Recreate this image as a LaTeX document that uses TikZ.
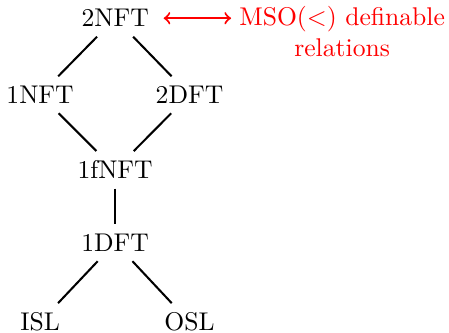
\documentclass[tikz,border=0pt]{standalone}
\usetikzlibrary{arrows,positioning}
\tikzset{
    cls/.style = {inner sep=3.6pt},
    link/.style = {draw, thick},
    note/.style = {text=red, align=center, inner sep=3pt}
}
\begin{document}
\begin{tikzpicture}[auto, node distance=2cm,>=to]
        \useasboundingbox (0,0) rectangle (6.16,-4.56);
        \node [cls, name=top] at (1.58,-0.25) {2NFT};
        \node [cls] (onenft) at (0.55,-1.30) {1NFT};
        \node [cls] (twodft) at (2.60,-1.30) {2DFT};
        \node [cls] (fnft) at (1.58,-2.33) {1fNFT};
        \node [cls] (onedft) at (1.58,-3.33) {1DFT};
        \node [cls] (isl) at (0.55,-4.42) {ISL};
        \node [cls] (osl) at (2.60,-4.42) {OSL};
        \node [note, anchor=north west, yshift=0.67pt] (mso) at (3.17,0 |- top.north) {MSO(<) definable\\relations};
        \draw [link] (top) -- (onenft);
        \draw [link] (top) -- (twodft);
        \draw [link] (onenft) -- (fnft);
        \draw [link] (twodft) -- (fnft);
        \draw [link] (fnft) -- (onedft);
        \draw [link] (onedft) -- (isl);
        \draw [link] (onedft) -- (osl);
        \draw [<->, red, thick, shorten <=2pt] (top.east) -- (top.east -| mso.west);
        \end{tikzpicture}
\end{document}
